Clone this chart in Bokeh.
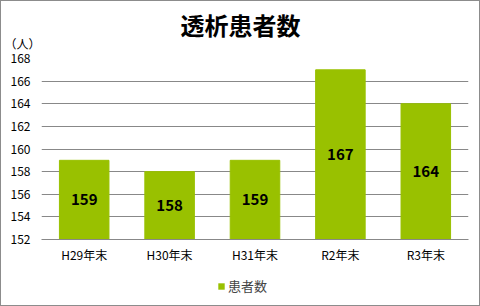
from bokeh.plotting import figure
from bokeh.layouts import column
from bokeh.models import ColumnDataSource, Label, Legend, LegendItem, FixedTicker
from bokeh.core.properties import value
from bokeh.embed import file_html
from bokeh.resources import INLINE

categories = ["H29年末", "H30年末", "H31年末", "R2年末", "R3年末"]
patients = [159, 158, 159, 167, 164]
series_name = "患者数"
title_text = "透析患者数"
unit_text = "（人）"
y_ticks = [152, 154, 156, 158, 160, 162, 164, 166, 168]

FONT = "Noto Sans CJK JP"
GREEN = "#99C100"
GRID = "#888888"
BORDER = "1px solid #8c8c8c"

base = y_ticks[0]
src = ColumnDataSource(dict(
    cat=categories,
    val=patients,
    mid=[(base + v) / 2 for v in patients],
    txt=[str(v) for v in patients],
))


def no_align(f):
    if "frame_align" in f.properties():
        f.frame_align = False


def blank(h, x_range=(0, 1), y_range=(0, 1)):
    f = figure(width=480, height=h, x_range=x_range, y_range=y_range,
               x_axis_type=None, y_axis_type=None, output_backend="svg",
               toolbar_location=None, title_location=None, min_border=0)
    f.outline_line_color = None
    f.xgrid.visible = False
    f.ygrid.visible = False
    f.border_fill_color = "white"
    f.background_fill_color = "white"
    no_align(f)
    return f


# --- header: title and unit
top = blank(50)
top.styles = {"border-top": BORDER, "border-left": BORDER, "border-right": BORDER,
              "box-sizing": "border-box"}
top.add_layout(Label(x=239, y=27.5, x_units="screen", y_units="screen", text=title_text,
                     text_align="center", text_baseline="middle", text_font=FONT,
                     text_font_style="bold", text_font_size="24px", text_color="black"))
top.add_layout(Label(x=3, y=8, x_units="screen", y_units="screen", text=unit_text,
                     text_align="left", text_baseline="middle", text_font=FONT,
                     text_font_size="12px", text_color="black"))

# --- main chart
p = figure(x_range=categories, y_range=(y_ticks[0], y_ticks[-1]),
           width=480, height=218, output_backend="svg", toolbar_location=None,
           title_location=None,
           min_border_left=40, min_border_right=13, min_border_top=8, min_border_bottom=29)
no_align(p)
p.outline_line_color = None
p.background_fill_color = "white"
p.border_fill_color = "white"
p.styles = {"border-left": BORDER, "border-right": BORDER, "box-sizing": "border-box"}

r = p.vbar(x="cat", top="val", bottom=base, width=0.58, color=GREEN, source=src)
p.text(x="cat", y="mid", text="txt", source=src, text_align="center", text_baseline="middle",
       text_font=value(FONT), text_font_style="bold", text_font_size="15px", text_color="black")

p.xgrid.grid_line_color = None
p.ygrid.grid_line_color = GRID
p.ygrid.grid_line_width = 1
p.yaxis.ticker = FixedTicker(ticks=y_ticks)
p.yaxis.axis_line_color = None
p.yaxis.major_tick_line_color = None
p.yaxis.minor_tick_line_color = None
p.yaxis.major_tick_out = 0
p.yaxis.major_tick_in = 0
p.yaxis.major_label_standoff = 11
p.yaxis.major_label_text_font = FONT
p.yaxis.major_label_text_font_size = "12px"
p.yaxis.major_label_text_color = "black"

p.xaxis.axis_line_color = GRID
p.xaxis.major_tick_line_color = None
p.xaxis.major_tick_out = 0
p.xaxis.major_tick_in = 0
p.xaxis.major_label_standoff = 6
p.xaxis.major_label_text_font = FONT
p.xaxis.major_label_text_font_size = "12px"
p.xaxis.major_label_text_color = "black"

# --- footer: legend (proxy renderer has zero-width, strokeless bars; only its swatch shows)
leg = blank(38, x_range=categories, y_range=(0, 1))
leg.styles = {"border-bottom": BORDER, "border-left": BORDER, "border-right": BORDER,
              "box-sizing": "border-box"}
r2 = leg.vbar(x="cat", top="val", bottom=base, width=0, fill_color=GREEN,
              line_color=None, source=src)
legend = Legend(items=[LegendItem(label=series_name, renderers=[r2])], location=(216, 11),
                orientation="horizontal", padding=0, margin=0, spacing=0,
                glyph_width=8, glyph_height=8, label_standoff=3,
                label_text_font=FONT, label_text_font_size="13px",
                border_line_color=None, background_fill_alpha=0)
leg.add_layout(legend, "center")

layout = column(top, p, leg, spacing=0)
open("out.html", "w").write(file_html(layout, INLINE))
